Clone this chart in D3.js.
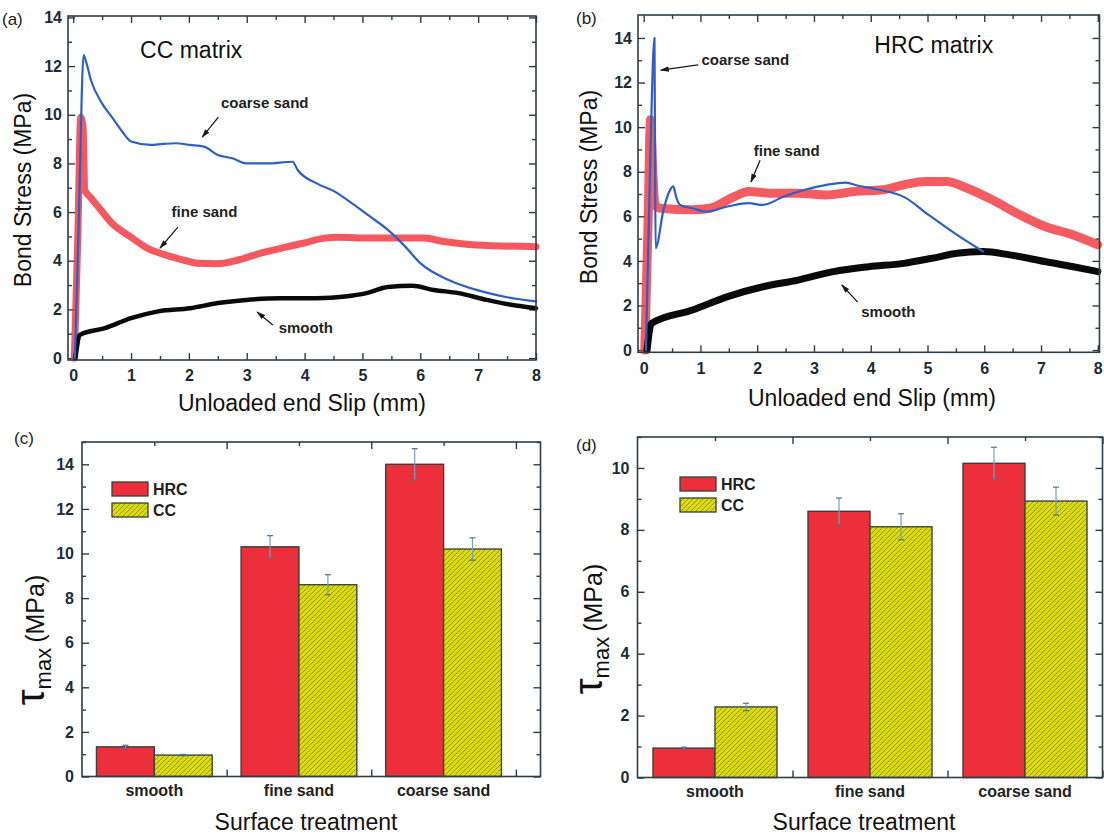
<!DOCTYPE html>
<meta charset="utf-8">
<style>
  body { margin: 0; background: #fff; }
  svg { font-family: "Liberation Sans", Arial, sans-serif; }
  .tick text { font-size: 16px; font-weight: bold; fill: #1d2b36; }
  .tick line { stroke: #2e3d48; stroke-width: 1.4; }
  .domain { display: none; }
  .note { font-size: 15px; font-weight: bold; fill: #222; }
  .cat { font-size: 16px; font-weight: bold; fill: #222; }
  .title { font-size: 23px; fill: #111; }
</style>
<body>
<svg id="fig" width="1104" height="834"></svg>
<script src="https://d3js.org/d3.v7.min.js"></script>
<script>

// ---- panel (a) CC matrix: slip (mm), bond stress (MPa)
var ccCoarse = [[0.03,0],[0.1,6],[0.18,12.45],[0.22,12.2],[0.31,11.4],[0.49,10.5],[0.67,9.9],[0.85,9.3],[1.0,8.9],
  [1.34,8.76],[1.55,8.8],[1.77,8.83],[2.02,8.76],[2.26,8.69],[2.5,8.35],[2.75,8.21],[2.99,8.0],[3.36,8.0],[3.79,8.07],
  [3.88,7.73],[4.21,7.18],[4.52,6.84],[4.82,6.36],[5.13,5.82],[5.44,5.27],[5.74,4.58],[6.0,3.9],[6.5,3.2],[7.0,2.78],
  [7.5,2.5],[8.0,2.33]];
var ccFine = [[0.02,0],[0.08,5],[0.13,9.9],[0.17,9.5],[0.2,6.9],[0.3,6.6],[0.43,6.23],[0.67,5.54],[0.98,5.0],[1.28,4.52],
  [1.59,4.24],[1.89,4.04],[2.14,3.9],[2.5,3.88],[2.87,4.04],[3.24,4.31],[3.6,4.52],[3.97,4.72],[4.34,4.93],[4.58,4.97],
  [5.13,4.93],[6.05,4.93],[6.41,4.79],[6.96,4.65],[8.0,4.58]];
var ccSmooth = [[0.04,0],[0.1,0.9],[0.12,0.96],[0.55,1.23],[1.0,1.64],[1.47,1.92],[2.02,2.05],[2.5,2.26],[2.99,2.39],
  [3.6,2.46],[4.21,2.46],[4.7,2.53],[5.07,2.67],[5.44,2.92],[5.86,2.97],[6.23,2.8],[6.66,2.67],[7.15,2.39],[7.57,2.19],
  [8.0,2.05]];

// ---- panel (b) HRC matrix
var hrcCoarse = [[0.04,0],[0.12,9],[0.19,14.0],[0.2,9],[0.21,4.57],[0.35,6.3],[0.45,7.1],[0.52,7.34],[0.58,6.8],
  [0.64,6.51],[0.86,6.36],[1.1,6.21],[1.48,6.44],[1.85,6.59],[2.1,6.51],[2.47,6.89],[2.84,7.19],[3.22,7.41],[3.56,7.51],
  [3.78,7.37],[4.15,7.19],[4.6,6.85],[5.0,6.1],[5.5,5.2],[5.98,4.42]];
var hrcFine = [[0.02,0],[0.08,6],[0.12,10.33],[0.16,8],[0.2,6.5],[0.3,6.36],[0.86,6.29],[1.17,6.36],[1.6,6.89],
  [1.85,7.11],[2.22,7.04],[2.72,7.04],[3.22,6.96],[3.71,7.11],[4.21,7.19],[4.58,7.41],[4.96,7.56],[5.33,7.56],[5.7,7.26],
  [6.14,6.74],[6.57,6.14],[7.07,5.54],[7.57,5.16],[8.0,4.72]];
var hrcSmooth = [[0.06,0],[0.12,1.1],[0.14,1.2],[0.86,1.8],[1.48,2.4],[2.1,2.84],[2.72,3.14],[3.34,3.52],[3.96,3.74],
  [4.58,3.89],[5.08,4.12],[5.52,4.34],[5.98,4.42],[6.45,4.27],[7.07,3.97],[7.57,3.74],[8.0,3.52]];

// ---- panels (c), (d): max bond stress per surface treatment
var treatments = ["smooth", "fine sand", "coarse sand"];
var matrices = ["HRC", "CC"];
var tauC_hrc = [1.33, 10.3, 14.0], errC_hrc = [0.07, 0.5, 0.7];
var tauC_cc  = [0.96, 8.6, 10.2],  errC_cc  = [0.03, 0.45, 0.5];
var tauD_hrc = [0.95, 8.6, 10.15], errD_hrc = [0.03, 0.43, 0.52];
var tauD_cc  = [2.28, 8.1, 8.93],  errD_cc  = [0.12, 0.42, 0.45];

var slipTicks = d3.range(0, 9, 1);
var slipMinor = d3.range(0.5, 8, 1);
var stressTicks = d3.range(0, 15, 2);
var stressMinor = d3.range(1, 15, 2);

// notes: [text, x, y, arrowFromX, arrowFromY, arrowToX, arrowToY] in data units
var notesA = [["coarse sand", 3.31, 10.48, 2.51, 9.9, 2.23, 9.08],
              ["fine sand", 2.27, 6.0, 1.81, 5.38, 1.5, 4.52],
              ["smooth", 4.02, 1.23, 3.45, 1.36, 3.18, 1.89]];
var notesB = [["coarse sand", 1.79, 13.01, 0.96, 12.79, 0.30, 12.56],
              ["fine sand", 2.52, 8.93, 2.05, 8.52, 1.89, 7.54],
              ["smooth", 4.31, 1.7, 3.77, 2.15, 3.49, 2.92]];

var svg = d3.select("#fig");
var frameColor = "#2e3d48";

var defs = svg.append("defs");
defs.append("marker").attr("id", "arr")
  .attr("viewBox", "0 0 10 6").attr("refX", 9).attr("refY", 3)
  .attr("markerWidth", 9).attr("markerHeight", 6).attr("markerUnits", "userSpaceOnUse")
  .attr("orient", "auto")
  .append("path").attr("d", "M0,0 L10,3 L0,6 Z").attr("fill", "#1a1a1a");
var hatch = defs.append("pattern").attr("id", "hatch")
  .attr("patternUnits", "userSpaceOnUse").attr("width", 5).attr("height", 5);
hatch.append("rect").attr("width", 5).attr("height", 5).attr("fill", "#dcdc0a");
hatch.append("path").attr("d", "M0,5 L5,0 M-1,1 L1,-1 M4,6 L6,4")
  .attr("stroke", "#8e8f1e").attr("stroke-width", 0.9);

function axes(p, xMajor, xMinor, yMajor, yMinor, xLabels) {
  var g = svg.append("g");
  var y0 = p.y.range()[0], y1 = p.y.range()[1];
  var x0 = p.x.range()[0], x1 = p.x.range()[1];
  var fmt = xLabels ? d3.format("d") : "";
  g.append("g").attr("transform", "translate(0," + y0 + ")")
    .call(d3.axisBottom(p.x).tickValues(xMajor).tickSize(-7).tickPadding(p.xPad || 9).tickFormat(fmt));
  g.append("g").attr("transform", "translate(0," + y0 + ")")
    .call(d3.axisBottom(p.x).tickValues(xMinor).tickSize(-4).tickFormat(""));
  g.append("g").attr("transform", "translate(0," + y1 + ")")
    .call(d3.axisTop(p.x).tickValues(xMajor).tickSize(-7).tickFormat(""));
  g.append("g").attr("transform", "translate(0," + y1 + ")")
    .call(d3.axisTop(p.x).tickValues(xMinor).tickSize(-4).tickFormat(""));
  g.append("g").attr("transform", "translate(" + x0 + ",0)")
    .call(d3.axisLeft(p.y).tickValues(yMajor).tickSize(-7).tickPadding(p.yPad || 7).tickFormat(d3.format("d")));
  g.append("g").attr("transform", "translate(" + x0 + ",0)")
    .call(d3.axisLeft(p.y).tickValues(yMinor).tickSize(-4).tickFormat(""));
  g.append("g").attr("transform", "translate(" + x1 + ",0)")
    .call(d3.axisRight(p.y).tickValues(yMajor).tickSize(-7).tickFormat(""));
  g.append("g").attr("transform", "translate(" + x1 + ",0)")
    .call(d3.axisRight(p.y).tickValues(yMinor).tickSize(-4).tickFormat(""));
  return g;
}

function frame(p) {
  svg.append("rect")
    .attr("x", p.x.range()[0]).attr("y", p.y.range()[1])
    .attr("width", p.x.range()[1] - p.x.range()[0])
    .attr("height", p.y.range()[0] - p.y.range()[1])
    .attr("fill", "none").attr("stroke", frameColor).attr("stroke-width", 1.6);
}

function curves(p, list) {
  var line = d3.line().curve(d3.curveMonotoneX).x(d => p.x(d[0])).y(d => p.y(d[1]));
  list.forEach(function (c) {
    svg.append("path").datum(c.data)
      .attr("d", line)
      .attr("fill", "none")
      .attr("stroke", c.color)
      .attr("stroke-width", c.width)
      .attr("stroke-opacity", c.opacity || 1)
      .attr("stroke-linejoin", "round")
      .attr("stroke-linecap", "round");
  });
}

function notes(p, list) {
  list.forEach(function (n) {
    svg.append("text").attr("class", "note")
      .attr("x", p.x(n[1])).attr("y", p.y(n[2])).attr("dy", "0.35em")
      .attr("text-anchor", "middle").text(n[0]);
    svg.append("line")
      .attr("x1", p.x(n[3])).attr("y1", p.y(n[4]))
      .attr("x2", p.x(n[5])).attr("y2", p.y(n[6]))
      .attr("stroke", "#1a1a1a").attr("stroke-width", 1.3)
      .attr("marker-end", "url(#arr)");
  });
}

function label(x, y, t) {
  svg.append("text").attr("x", x).attr("y", y).attr("font-size", 17).attr("fill", "#222").text(t);
}

// ---------- (a)
var A = {
  x: d3.scaleLinear().domain([-0.09, 8]).range([68, 536]),
  y: d3.scaleLinear().domain([-0.08, 14.06]).range([360, 16]),
  xPad: 10, yPad: 6
};
axes(A, slipTicks, slipMinor, stressTicks, stressMinor, true);
curves(A, [
  { data: ccFine, color: "#f0353a", width: 7, opacity: 0.82 },
  { data: ccSmooth, color: "#0a0a0a", width: 4.5 },
  { data: ccCoarse, color: "#2d5fc4", width: 2.2 }
]);
frame(A);
notes(A, notesA);
svg.append("text").attr("class", "title").attr("x", A.x(2.04)).attr("y", A.y(12.66))
  .attr("dy", "0.35em").attr("text-anchor", "middle").text("CC matrix");
svg.append("text").attr("class", "title").attr("x", 302).attr("y", 411)
  .attr("text-anchor", "middle").text("Unloaded end Slip (mm)");
svg.append("text").attr("class", "title").attr("transform", "translate(31,190) rotate(-90)")
  .attr("text-anchor", "middle").text("Bond Stress (MPa)");
label(2, 25, "(a)");

// ---------- (b)
var B = {
  x: d3.scaleLinear().domain([-0.1, 8.03]).range([638, 1099.5]),
  y: d3.scaleLinear().domain([-0.1, 15.03]).range([352.3, 15]),
  xPad: 10, yPad: 6
};
axes(B, slipTicks, slipMinor, stressTicks, stressMinor, true);
curves(B, [
  { data: hrcFine, color: "#f0353a", width: 9, opacity: 0.8 },
  { data: hrcSmooth, color: "#0a0a0a", width: 7 },
  { data: hrcCoarse, color: "#2d5fc4", width: 2.2 }
]);
frame(B);
notes(B, notesB);
svg.append("text").attr("class", "title").attr("x", B.x(5.11)).attr("y", B.y(13.68))
  .attr("dy", "0.35em").attr("text-anchor", "middle").text("HRC matrix");
svg.append("text").attr("class", "title").attr("x", 872).attr("y", 406)
  .attr("text-anchor", "middle").text("Unloaded end Slip (mm)");
svg.append("text").attr("class", "title").attr("transform", "translate(597,187) rotate(-90)")
  .attr("text-anchor", "middle").text("Bond Stress (MPa)");
label(576, 24, "(b)");

// ---------- bar panels
function barPanel(P, hrc, hrcErr, cc, ccErr, legendAt, titleX, tauX, tauY) {
  var w = 0.4;
  var yTicks = d3.range(0, P.y.domain()[1] + 0.01, 2);
  var yMin = d3.range(1, P.y.domain()[1] + 0.01, 2);
  axes(P, [1.5, 2.5, 3.5].filter(v => v <= P.x.domain()[1]), [1, 2, 3], yTicks, yMin, false);

  var rows = treatments.map((t, i) => ({ t: t, i: i + 1, hrc: hrc[i], he: hrcErr[i], cc: cc[i], ce: ccErr[i] }));
  var g = svg.append("g");
  g.selectAll(".hb").data(rows).enter().append("rect")
    .attr("x", d => P.x(d.i - w)).attr("width", d => P.x(d.i) - P.x(d.i - w))
    .attr("y", d => P.y(d.hrc)).attr("height", d => P.y(0) - P.y(d.hrc))
    .attr("fill", "#ec2f3b").attr("stroke", "#3a4038").attr("stroke-width", 1.4);
  g.selectAll(".cb").data(rows).enter().append("rect")
    .attr("x", d => P.x(d.i)).attr("width", d => P.x(d.i + w) - P.x(d.i))
    .attr("y", d => P.y(d.cc)).attr("height", d => P.y(0) - P.y(d.cc))
    .attr("fill", "url(#hatch)").attr("stroke", "#3a4a38").attr("stroke-width", 1.4);

  var errs = [];
  rows.forEach(d => {
    errs.push({ x: d.i - w / 2, v: d.hrc, e: d.he });
    errs.push({ x: d.i + w / 2, v: d.cc, e: d.ce });
  });
  var eg = g.selectAll(".eb").data(errs).enter().append("g");
  eg.append("line")
    .attr("x1", d => P.x(d.x)).attr("x2", d => P.x(d.x))
    .attr("y1", d => P.y(d.v - d.e)).attr("y2", d => P.y(d.v + d.e))
    .attr("stroke", "#7d9cb8").attr("stroke-width", 1.2);
  [-1, 1].forEach(s => {
    eg.append("line")
      .attr("x1", d => P.x(d.x) - 3).attr("x2", d => P.x(d.x) + 3)
      .attr("y1", d => P.y(d.v + s * d.e)).attr("y2", d => P.y(d.v + s * d.e))
      .attr("stroke", "#56708a").attr("stroke-width", 1.2);
  });

  frame(P);

  svg.append("g").selectAll("text").data(treatments).enter().append("text")
    .attr("class", "cat").attr("x", (d, i) => P.x(i + 1)).attr("y", P.y(0) + 19)
    .attr("text-anchor", "middle").text(d => d);

  var lg = svg.append("g").attr("transform", "translate(" + legendAt[0] + "," + legendAt[1] + ")");
  matrices.forEach((m, i) => {
    lg.append("rect").attr("x", 0).attr("y", i * 21).attr("width", 36).attr("height", 14)
      .attr("fill", i === 0 ? "#ec2f3b" : "url(#hatch)").attr("stroke", "#3a4038").attr("stroke-width", 1.3);
    lg.append("text").attr("x", 41).attr("y", i * 21 + 7).attr("dy", "0.36em")
      .attr("font-size", 16).attr("font-weight", "bold").attr("fill", "#222").text(m);
  });

  svg.append("text").attr("class", "title").attr("x", titleX).attr("y", 830)
    .attr("text-anchor", "middle").text("Surface treatment");

  var tl = svg.append("text").attr("transform", "translate(" + tauX + "," + tauY + ") rotate(-90)")
    .attr("text-anchor", "middle").attr("fill", "#111");
  tl.append("tspan").attr("font-size", 40).text("τ");
  tl.append("tspan").attr("font-size", 22).attr("dy", 7).text("max");
  tl.append("tspan").attr("font-size", 25).attr("dy", -7).attr("dx", 5).text("(MPa)");
}

var C = {
  x: d3.scaleLinear().domain([0.5, 3.67]).range([82, 540.5]),
  y: d3.scaleLinear().domain([0, 15]).range([776.5, 442]),
  yPad: 8
};
barPanel(C, tauC_hrc, errC_hrc, tauC_cc, errC_cc, [112, 482], 306, 44, 640);
label(14, 444, "(c)");

var D = {
  x: d3.scaleLinear().domain([0.5, 3.5]).range([637.5, 1102.5]),
  y: d3.scaleLinear().domain([0, 11]).range([777.5, 437]),
  yPad: 8
};
barPanel(D, tauD_hrc, errD_hrc, tauD_cc, errD_cc, [680, 477], 864, 602, 629);
label(576, 451, "(d)");

</script>
</body>
